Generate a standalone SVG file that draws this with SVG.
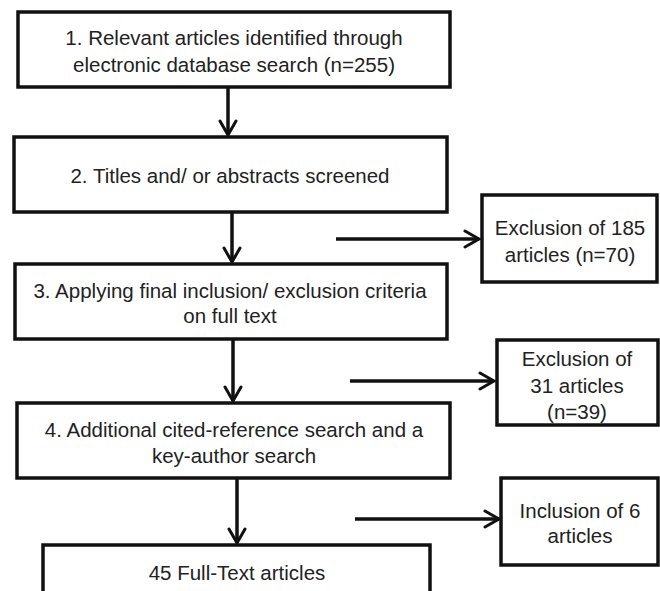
<svg xmlns="http://www.w3.org/2000/svg" width="660" height="591" viewBox="0 0 660 591">
<defs>
<marker id="arr" viewBox="0 0 20 20" refX="17" refY="10" markerWidth="20" markerHeight="20" markerUnits="userSpaceOnUse" orient="auto">
<path d="M3,2 L17,10 L3,18" fill="none" stroke="#111" stroke-width="3" stroke-linecap="round" stroke-linejoin="miter"/>
</marker>
</defs>
<style>
.box{fill:#fff;stroke:#111;stroke-width:3.5}
.t{font-family:"Liberation Sans",Arial,sans-serif;font-size:20.5px;fill:#222;text-anchor:middle}
.c{stroke:#111;stroke-width:3.5;fill:none;marker-end:url(#arr)}
</style>
<rect width="660" height="591" fill="#fff"/>
<g id="connectors">
<line class="c" x1="228" y1="87" x2="228" y2="135"/>
<line class="c" x1="232" y1="212" x2="232" y2="262"/>
<line class="c" x1="233" y1="339" x2="233" y2="401"/>
<line class="c" x1="237" y1="478" x2="237" y2="543"/>
<line class="c" x1="336" y1="239" x2="479" y2="239"/>
<line class="c" x1="350" y1="381" x2="494" y2="381"/>
<line class="c" x1="355" y1="519" x2="499" y2="519"/>
</g>
<g id="n1"><rect class="box" x="18" y="12" width="432" height="75"/>
<text class="t" x="234" y="45">1. Relevant articles identified through</text>
<text class="t" x="234" y="72">electronic database search (n=255)</text></g>
<g id="n2"><rect class="box" x="14" y="137" width="433" height="75"/>
<text class="t" x="230" y="183">2. Titles and/ or abstracts screened</text></g>
<g id="n3"><rect class="box" x="15" y="264" width="432" height="75"/>
<text class="t" x="230" y="298">3. Applying final inclusion/ exclusion criteria</text>
<text class="t" x="230" y="323">on full text</text></g>
<g id="n4"><rect class="box" x="17" y="403" width="433" height="75"/>
<text class="t" x="234" y="437">4. Additional cited-reference search and a</text>
<text class="t" x="234" y="463">key-author search</text></g>
<g id="n5"><rect class="box" x="43" y="545" width="387" height="60"/>
<text class="t" x="237" y="580">45 Full-Text articles</text></g>
<g id="r1"><rect class="box" x="482" y="195" width="175" height="87"/>
<text class="t" x="570" y="235">Exclusion of 185</text>
<text class="t" x="570" y="262">articles (n=70)</text></g>
<g id="r2"><rect class="box" x="497" y="340" width="161" height="85"/>
<text class="t" x="577" y="366">Exclusion of</text>
<text class="t" x="577" y="393">31 articles</text>
<text class="t" x="577" y="419">(n=39)</text></g>
<g id="r3"><rect class="box" x="501" y="478" width="157" height="87"/>
<text class="t" x="580" y="518">Inclusion of 6</text>
<text class="t" x="580" y="543">articles</text></g>
</svg>
